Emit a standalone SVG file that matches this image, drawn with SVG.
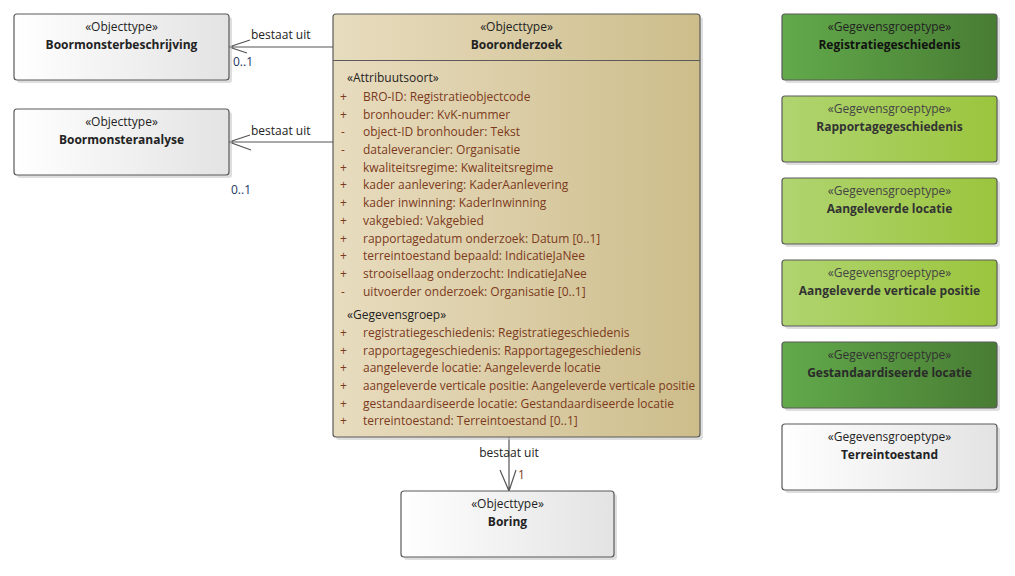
<svg xmlns="http://www.w3.org/2000/svg" width="1015" height="576" viewBox="0 0 1015 576">
<style>
text{font-family:"Segoe UI","Open Sans","Liberation Sans",sans-serif;font-size:12px;fill:#222}
.st{text-anchor:middle}
.nm{text-anchor:middle;font-weight:bold}
.box{stroke:#5a5a5a;stroke-width:1.2}
.sh{fill:#c8c8c8;opacity:.6}
.at{fill:#7b3a1c}
.pl{fill:#7b3a1c}
.conn{stroke:#555;stroke-width:1.2;fill:none}
.mult{fill:#23375f}
</style>
<defs>
<linearGradient id="gw" x1="0" y1="0" x2="1" y2="0"><stop offset="0" stop-color="#ffffff"/><stop offset="1" stop-color="#e3e3e3"/></linearGradient>
<linearGradient id="gt" x1="0" y1="0" x2="1" y2="0"><stop offset="0" stop-color="#e8dcbf"/><stop offset="1" stop-color="#cdbd8b"/></linearGradient>
<linearGradient id="gd" x1="0" y1="0" x2="1" y2="0"><stop offset="0" stop-color="#62aa4b"/><stop offset="1" stop-color="#487c33"/></linearGradient>
<linearGradient id="gl" x1="0" y1="0" x2="1" y2="0"><stop offset="0" stop-color="#b0d470"/><stop offset="1" stop-color="#9bc53d"/></linearGradient>
</defs>

<g id="connectors">
<path class="conn" d="M333,47 H229 M250,40 L229,47 L247,53"/>
<text x="251" y="39">bestaat uit</text>
<text class="mult" x="233" y="66">0..1</text>
<path class="conn" d="M333,142 H229 M250,135 L229,142 L251,150"/>
<text x="251" y="135">bestaat uit</text>
<text class="mult" x="231" y="194">0..1</text>
<path class="conn" d="M509,437 V491 M500,470 L509,491 L516,470"/>
<text class="st" x="509" y="457">bestaat uit</text>
<text class="pl" x="518" y="479">1</text>
</g>

<g id="boormonsterbeschrijving">
<rect class="sh" x="17" y="17" width="215" height="66" rx="3"/>
<rect class="box" x="14" y="14" width="215" height="66" rx="3" fill="url(#gw)"/>
<text class="st" x="121.5" y="31">«Objecttype»</text>
<text class="nm" x="121.5" y="49">Boormonsterbeschrijving</text>
</g>

<g id="boormonsteranalyse">
<rect class="sh" x="17" y="112" width="215" height="66" rx="3"/>
<rect class="box" x="14" y="109" width="215" height="66" rx="3" fill="url(#gw)"/>
<text class="st" x="121.5" y="126">«Objecttype»</text>
<text class="nm" x="121.5" y="144">Boormonsteranalyse</text>
</g>

<g id="booronderzoek">
<rect class="sh" x="336" y="17" width="367" height="423" rx="3"/>
<rect class="box" x="333" y="14" width="367" height="423" rx="3" fill="url(#gt)"/>
<line x1="333" y1="60.5" x2="700" y2="60.5" stroke="#5a5a5a" stroke-width="1.2"/>
<text class="st" x="516.5" y="31">«Objecttype»</text>
<text class="nm" x="516.5" y="49">Booronderzoek</text>
<text x="347" y="82">«Attribuutsoort»</text>
<g class="at">
<text class="at" x="340" y="101">+</text><text class="at" x="363" y="101">BRO-ID: Registratieobjectcode</text>
<text class="at" x="340" y="119">+</text><text class="at" x="363" y="119">bronhouder: KvK-nummer</text>
<text class="at" x="341" y="136">-</text><text class="at" x="363" y="136">object-ID bronhouder: Tekst</text>
<text class="at" x="341" y="154">-</text><text class="at" x="363" y="154">dataleverancier: Organisatie</text>
<text class="at" x="340" y="172">+</text><text class="at" x="363" y="172">kwaliteitsregime: Kwaliteitsregime</text>
<text class="at" x="340" y="189">+</text><text class="at" x="363" y="189">kader aanlevering: KaderAanlevering</text>
<text class="at" x="340" y="207">+</text><text class="at" x="363" y="207">kader inwinning: KaderInwinning</text>
<text class="at" x="340" y="225">+</text><text class="at" x="363" y="225">vakgebied: Vakgebied</text>
<text class="at" x="340" y="243">+</text><text class="at" x="363" y="243">rapportagedatum onderzoek: Datum [0..1]</text>
<text class="at" x="340" y="260">+</text><text class="at" x="363" y="260">terreintoestand bepaald: IndicatieJaNee</text>
<text class="at" x="340" y="278">+</text><text class="at" x="363" y="278">strooisellaag onderzocht: IndicatieJaNee</text>
<text class="at" x="341" y="296">-</text><text class="at" x="363" y="296">uitvoerder onderzoek: Organisatie [0..1]</text>
</g>
<text x="347" y="319">«Gegevensgroep»</text>
<text class="at" x="340" y="337">+</text><text class="at" x="363" y="337">registratiegeschiedenis: Registratiegeschiedenis</text>
<text class="at" x="340" y="355">+</text><text class="at" x="363" y="355">rapportagegeschiedenis: Rapportagegeschiedenis</text>
<text class="at" x="340" y="372">+</text><text class="at" x="363" y="372">aangeleverde locatie: Aangeleverde locatie</text>
<text class="at" x="340" y="390">+</text><text class="at" x="363" y="390" textLength="332" lengthAdjust="spacingAndGlyphs">aangeleverde verticale positie: Aangeleverde verticale positie</text>
<text class="at" x="340" y="408">+</text><text class="at" x="363" y="408">gestandaardiseerde locatie: Gestandaardiseerde locatie</text>
<text class="at" x="340" y="425">+</text><text class="at" x="363" y="425">terreintoestand: Terreintoestand [0..1]</text>
</g>

<g id="boring">
<rect class="sh" x="404" y="494" width="213" height="66" rx="3"/>
<rect class="box" x="401" y="491" width="213" height="66" rx="3" fill="url(#gw)"/>
<text class="st" x="507.5" y="508">«Objecttype»</text>
<text class="nm" x="507.5" y="526">Boring</text>
</g>

<g id="registratiegeschiedenis">
<rect class="sh" x="785" y="17" width="215" height="66" rx="3"/>
<rect class="box" x="782" y="14" width="215" height="66" rx="3" fill="url(#gd)"/>
<text class="st" x="889.5" y="31">«Gegevensgroeptype»</text>
<text class="nm" x="889.5" y="49" style="fill:#111">Registratiegeschiedenis</text>
</g>

<g id="rapportagegeschiedenis">
<rect class="sh" x="785" y="99" width="215" height="66" rx="3"/>
<rect class="box" x="782" y="96" width="215" height="66" rx="3" fill="url(#gl)"/>
<text class="st" x="889.5" y="113" style="fill:#444">«Gegevensgroeptype»</text>
<text class="nm" x="889.5" y="131" style="fill:#333">Rapportagegeschiedenis</text>
</g>

<g id="aangeleverde-locatie">
<rect class="sh" x="785" y="181" width="215" height="66" rx="3"/>
<rect class="box" x="782" y="178" width="215" height="66" rx="3" fill="url(#gl)"/>
<text class="st" x="889.5" y="195" style="fill:#444">«Gegevensgroeptype»</text>
<text class="nm" x="889.5" y="213" style="fill:#333">Aangeleverde locatie</text>
</g>

<g id="aangeleverde-verticale-positie">
<rect class="sh" x="785" y="263" width="215" height="66" rx="3"/>
<rect class="box" x="782" y="260" width="215" height="66" rx="3" fill="url(#gl)"/>
<text class="st" x="889.5" y="277" style="fill:#444">«Gegevensgroeptype»</text>
<text class="nm" x="889.5" y="295" style="fill:#333">Aangeleverde verticale positie</text>
</g>

<g id="gestandaardiseerde-locatie">
<rect class="sh" x="785" y="345" width="215" height="66" rx="3"/>
<rect class="box" x="782" y="342" width="215" height="66" rx="3" fill="url(#gd)"/>
<text class="st" x="889.5" y="359" style="fill:#333">«Gegevensgroeptype»</text>
<text class="nm" x="889.5" y="377" style="fill:#2a2a2a">Gestandaardiseerde locatie</text>
</g>

<g id="terreintoestand">
<rect class="sh" x="785" y="427" width="215" height="66" rx="3"/>
<rect class="box" x="782" y="424" width="215" height="66" rx="3" fill="url(#gw)"/>
<text class="st" x="889.5" y="441">«Gegevensgroeptype»</text>
<text class="nm" x="889.5" y="459">Terreintoestand</text>
</g>
</svg>
